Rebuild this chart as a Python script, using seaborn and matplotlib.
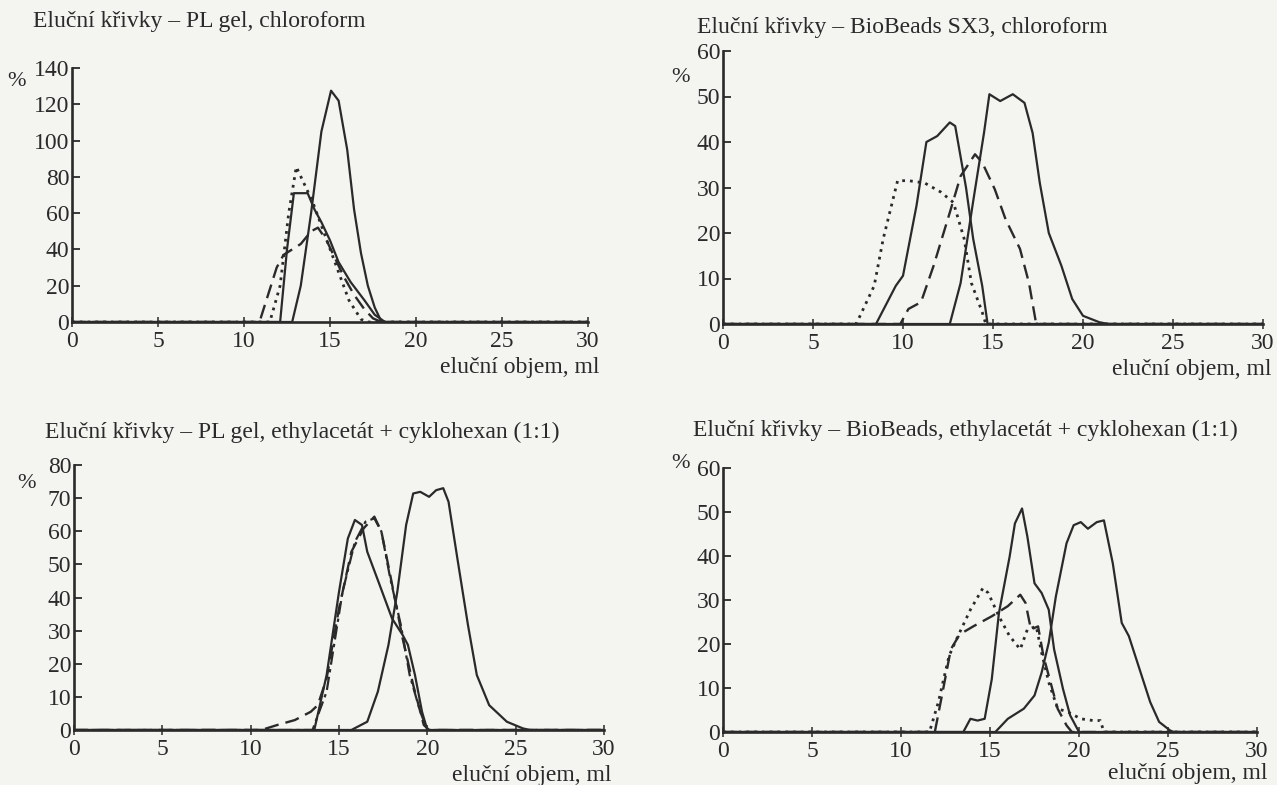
import numpy as np
import pandas as pd
import matplotlib
matplotlib.use('Agg')
import matplotlib.pyplot as plt
import seaborn as sns

# ---- data (x = eluční objem in ml, y = %) ----

# PL gel, chloroform
pl_chl_solid_big_x = [0, 12.3, 12.8, 13.3, 13.9, 14.5, 15.06, 15.5, 16.0, 16.4, 16.8, 17.2, 17.6, 18.0, 30]
pl_chl_solid_big_y = [0, 0, 0, 20, 60, 105, 127.5, 122, 95, 62, 38, 20, 8, 0, 0]
pl_chl_solid_x = [0, 12.1, 12.5, 12.9, 13.7, 14.1, 14.5, 15.0, 15.5, 16.2, 17.0, 17.6, 18.2, 30]
pl_chl_solid_y = [0, 0, 40, 71, 71, 62, 55, 45, 33, 22, 12, 4, 0, 0]
pl_chl_dotted_x = [0, 11.5, 12.1, 12.6, 13.04, 14.0, 14.7, 15.4, 16.1, 16.8, 17.2, 30]
pl_chl_dotted_y = [0, 0, 20, 60, 85.5, 66, 48, 30, 12, 1.5, 0, 0]
pl_chl_dashed_x = [0, 10.9, 11.9, 12.3, 13.3, 13.9, 14.3, 14.8, 15.3, 15.8, 16.4, 17.0, 17.5, 18.0, 30]
pl_chl_dashed_y = [0, 0, 30, 37, 43, 50, 52, 45, 35, 25, 15, 7, 2, 0, 0]

# BioBeads SX3, chloroform
bb_chl_solid_x = [0, 8.5, 9.6, 10.0, 10.75, 11.3, 11.9, 12.6, 12.9, 13.5, 13.9, 14.4, 14.7, 30]
bb_chl_solid_y = [0, 0, 8.4, 10.6, 26, 40, 41.3, 44.3, 43.5, 30, 18.7, 8.4, 0, 0]
bb_chl_solid_big_x = [0, 12.6, 13.2, 13.9, 14.5, 14.8, 15.4, 16.1, 16.75, 17.2, 17.6, 18.1, 18.8,
                      19.4, 20.0, 20.9, 21.4, 30]
bb_chl_solid_big_y = [0, 0, 9, 27, 42, 50.5, 49, 50.5, 48.6, 42, 31, 20, 12.8, 5.5, 1.8, 0.4, 0, 0]
bb_chl_dotted_x = [0, 7.4, 8.4, 8.9, 9.7, 10.3, 11.2, 12.1, 12.8, 13.4, 13.8, 14.4, 14.6, 30]
bb_chl_dotted_y = [0, 0, 8.4, 18.7, 31.5, 31.5, 31, 29, 26.7, 18.7, 9, 2.6, 0, 0]
bb_chl_dashed_x = [0, 9.85, 10.3, 11.0, 11.7, 12.6, 13.2, 14.0, 14.4, 15.1, 15.7, 16.5, 17.0, 17.4, 30]
bb_chl_dashed_y = [0, 0, 3.3, 4.8, 12.8, 24.5, 32.5, 37.3, 35.5, 29.6, 23, 16.5, 9, 0, 0]

# PL gel, ethylacetát + cyklohexan
pl_eac_solid_x = [0, 13.6, 14.3, 15.0, 15.5, 15.9, 16.3, 16.6, 17.3, 18.0, 18.6, 18.9, 19.3, 19.7, 20.0, 30]
pl_eac_solid_y = [0, 0, 16.6, 41.7, 57.8, 63.4, 61.9, 53.8, 43.8, 33.7, 28.7, 25.7, 16.6, 5.5, 0, 0]
pl_eac_dashdot_x = [0, 13.5, 14.3, 15.2, 15.9, 16.5, 17.0, 17.4, 17.9, 18.5, 19.0, 19.6, 20.0, 30]
pl_eac_dashdot_y = [0, 0, 11.6, 41.7, 56.8, 62.9, 63.9, 59.9, 45.8, 31.7, 16.6, 5.5, 0, 0]
pl_eac_dashed_x = [0, 10.6, 11.5, 12.5, 13.4, 13.8, 14.3, 15.0, 15.7, 16.4, 17.0, 17.4, 17.9, 18.6,
                   19.2, 19.8, 20.1, 30]
pl_eac_dashed_y = [0, 0, 1.5, 3, 5.5, 7.5, 15.6, 36.7, 53.8, 60.9, 64.4, 59.9, 46.8, 27.7, 13.6, 1.5, 0, 0]
pl_eac_solid_big_x = [0, 15.7, 16.6, 17.2, 17.8, 18.3, 18.8, 19.2, 19.6, 20.1, 20.5, 20.9, 21.2, 21.7,
                      22.3, 22.8, 23.5, 24.5, 25.4, 25.8, 30]
pl_eac_solid_big_y = [0, 0, 2.5, 11.6, 25.7, 41.7, 61.9, 71.4, 71.9, 70.4, 72.4, 73, 68.9, 51.8,
                      31.7, 16.6, 7.5, 2.5, 0.5, 0, 0]

# BioBeads, ethylacetát + cyklohexan
bb_eac_solid_x = [0, 13.5, 13.9, 14.3, 14.7, 15.1, 15.5, 16.1, 16.4, 16.8, 17.1, 17.5, 17.9, 18.3,
                  18.6, 19.1, 19.5, 20.0, 30]
bb_eac_solid_y = [0, 0, 3, 2.6, 3, 12, 27, 39.8, 47.4, 50.8, 44.4, 33.8, 31.6, 27.8, 18.8, 9.8, 3.8, 0, 0]
bb_eac_dotted_x = [0, 11.6, 12.1, 12.7, 13.2, 13.9, 14.6, 14.9, 15.5, 16.1, 16.7, 17.1, 17.6, 17.9,
                   18.3, 18.8, 19.4, 20.1, 20.8, 21.2, 21.4, 30]
bb_eac_dotted_y = [0, 0, 6.8, 17.3, 21.8, 27.8, 32.7, 31.6, 26.3, 21.8, 18.8, 23.3, 24, 18, 11.3,
                   5.3, 4.5, 3, 2.6, 2.6, 0, 0]
bb_eac_dashed_x = [0, 11.9, 12.3, 12.8, 13.3, 14.1, 15.1, 16.0, 16.7, 17.0, 17.3, 17.7, 18.0, 18.4,
                   18.8, 19.3, 19.6, 30]
bb_eac_dashed_y = [0, 0, 8.3, 18.8, 22.2, 24.1, 26.3, 28.6, 31.2, 29.3, 23.3, 24, 17.3, 11.3, 5.3, 1.5, 0, 0]
bb_eac_solid_big_x = [0, 15.3, 16.0, 16.9, 17.5, 17.9, 18.3, 18.7, 19.3, 19.7, 20.1, 20.5, 21.0, 21.4,
                      21.9, 22.4, 22.8, 23.4, 24.0, 24.5, 25.1, 25.3, 30]
bb_eac_solid_big_y = [0, 0, 3, 5.3, 8.3, 13.5, 20.3, 30.8, 42.9, 47, 47.7, 46.2, 47.7, 48.1, 38.3,
                      24.8, 21.8, 14.3, 6.8, 2.3, 0.4, 0, 0]

titles = ['Eluční křivky – PL gel, chloroform',
          'Eluční křivky – BioBeads SX3, chloroform',
          'Eluční křivky – PL gel, ethylacetát + cyklohexan (1:1)',
          'Eluční křivky – BioBeads, ethylacetát + cyklohexan (1:1)']
y_tops = [140, 60, 80, 60]
y_steps = [20, 10, 10, 10]
x_ticks = [0, 5, 10, 15, 20, 25, 30]
x_label = 'eluční objem, ml'

W, H = 1277, 785
INK = '#2a2a2a'
BG = '#f4f4f1'

sns.set_theme(style='white')
plt.rcParams['font.family'] = ['Liberation Serif', 'DejaVu Serif']

STYLES = {
    'solid': dict(linestyle='-', linewidth=1.6),
    'dashed': dict(linestyle=(0, (6, 3)), linewidth=1.7),
    'dotted': dict(linestyle=(0, (1, 1.8)), linewidth=2.0),
    'dashdot': dict(linestyle=(0, (6, 2, 1.5, 2)), linewidth=1.6),
}


def make_frame(curves):
    frames = []
    for name, (xs, ys, kind) in curves.items():
        frames.append(pd.DataFrame({'x': xs, 'y': ys, 'curve': name, 'kind': kind}))
    return pd.concat(frames, ignore_index=True)


def px_axes(fig, x0, x1, y_bottom, y_top):
    return fig.add_axes([x0 / W, 1 - y_bottom / H, (x1 - x0) / W, (y_bottom - y_top) / H])


def draw_panel(ax, frame, y_top, y_step):
    for name, part in frame.groupby('curve', sort=False):
        kind = part['kind'].iloc[0]
        sns.lineplot(data=part, x='x', y='y', ax=ax, color=INK, estimator=None,
                     sort=False, legend=False, **STYLES[kind])
    ax.set_facecolor(BG)
    ax.set_xlim(0, 30)
    ax.set_ylim(0, y_top)
    ax.set_xticks(x_ticks)
    ax.set_yticks(np.arange(0, y_top + 1, y_step))
    ax.set_xlabel('')
    ax.set_ylabel('')
    for side in ['top', 'right']:
        ax.spines[side].set_visible(False)
    for side in ['left', 'bottom']:
        ax.spines[side].set_color(INK)
        ax.spines[side].set_linewidth(1.9)
    ax.tick_params(axis='y', direction='in', length=6, width=1.3, color=INK,
                   labelsize=17, labelcolor=INK, pad=2, left=True)
    ax.tick_params(axis='x', direction='inout', length=7, width=1.1, color=INK,
                   labelsize=17, labelcolor=INK, pad=3, bottom=True)


panels = [
    make_frame({'a': (pl_chl_solid_big_x, pl_chl_solid_big_y, 'solid'),
                'b': (pl_chl_solid_x, pl_chl_solid_y, 'solid'),
                'c': (pl_chl_dotted_x, pl_chl_dotted_y, 'dotted'),
                'd': (pl_chl_dashed_x, pl_chl_dashed_y, 'dashed')}),
    make_frame({'a': (bb_chl_solid_x, bb_chl_solid_y, 'solid'),
                'b': (bb_chl_solid_big_x, bb_chl_solid_big_y, 'solid'),
                'c': (bb_chl_dotted_x, bb_chl_dotted_y, 'dotted'),
                'd': (bb_chl_dashed_x, bb_chl_dashed_y, 'dashed')}),
    make_frame({'a': (pl_eac_solid_x, pl_eac_solid_y, 'solid'),
                'b': (pl_eac_dashdot_x, pl_eac_dashdot_y, 'dashdot'),
                'c': (pl_eac_dashed_x, pl_eac_dashed_y, 'dashed'),
                'd': (pl_eac_solid_big_x, pl_eac_solid_big_y, 'solid')}),
    make_frame({'a': (bb_eac_solid_x, bb_eac_solid_y, 'solid'),
                'b': (bb_eac_dotted_x, bb_eac_dotted_y, 'dotted'),
                'c': (bb_eac_dashed_x, bb_eac_dashed_y, 'dashed'),
                'd': (bb_eac_solid_big_x, bb_eac_solid_big_y, 'solid')}),
]

# pixel boxes of the four plot areas and their text anchors
boxes = [(72, 588, 322, 68), (723, 1263, 324, 51), (74, 604, 730, 465), (723, 1257, 732, 468)]
title_pos = [(33, 22), (697, 28), (45, 432), (693, 430)]
pct_pos = [(17, 82), (680, 78), (27, 484), (680, 463)]
xlabel_pos = [(600, 368), (1272, 370), (612, 776), (1268, 774)]

fig = plt.figure(figsize=(W / 100, H / 100), dpi=100)
fig.patch.set_facecolor(BG)

for i in range(4):
    ax = px_axes(fig, *boxes[i])
    draw_panel(ax, panels[i], y_tops[i], y_steps[i])
    fig.text(title_pos[i][0] / W, 1 - title_pos[i][1] / H, titles[i], fontsize=17,
             color=INK, ha='left', va='center')
    fig.text(pct_pos[i][0] / W, 1 - pct_pos[i][1] / H, '%', fontsize=16,
             color=INK, ha='center', va='center')
    fig.text(xlabel_pos[i][0] / W, 1 - xlabel_pos[i][1] / H, x_label, fontsize=17,
             color=INK, ha='right', va='center')

fig.savefig('out.png', dpi=100, facecolor=BG)
